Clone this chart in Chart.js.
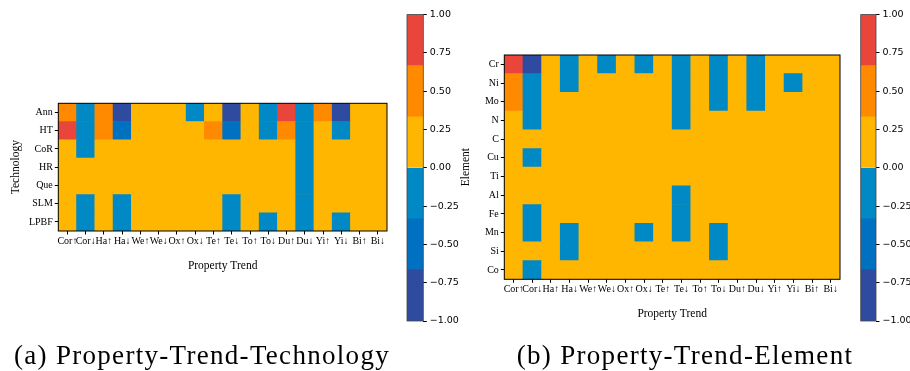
<!DOCTYPE html>
<html>
<head>
<meta charset="utf-8">
<script src="https://cdn.jsdelivr.net/npm/chart.js@4.4.0/dist/chart.umd.min.js"></script>
<style>
  body { margin: 0; background: #fff; }
  #wrap { position: relative; width: 910px; height: 371px; overflow: hidden; }
  #wrap canvas { position: absolute; left: 0; top: 0; }
  .cap { position: absolute; top: 340px; font-family: "Liberation Serif", serif; font-size: 27px;
         letter-spacing: 1.3px; color: #000; text-align: center; white-space: nowrap; }
</style>
</head>
<body>
<div id="wrap">
  <canvas id="techChart" width="910" height="371"></canvas>
  <canvas id="techBar" width="910" height="371"></canvas>
  <canvas id="elemChart" width="910" height="371"></canvas>
  <canvas id="elemBar" width="910" height="371"></canvas>
  <div class="cap" style="left:2px;width:400px;">(a) Property-Trend-Technology</div>
  <div class="cap" style="left:485px;width:400px;">(b) Property-Trend-Element</div>
</div>
<script>
// property trend columns (same for both panels)
const trends = ['Cor↑', 'Cor↓', 'Ha↑', 'Ha↓', 'We↑', 'We↓', 'Ox↑', 'Ox↓', 'Te↑',
  'Te↓', 'To↑', 'To↓', 'Du↑', 'Du↓', 'Yi↑', 'Yi↓', 'Bi↑', 'Bi↓'];

// (a) technology rows, top to bottom
const techNames = ['Ann', 'HT', 'CoR', 'HR', 'Que', 'SLM', 'LPBF'];
const ann  = [0.5, -0.2, 0.5, -1, 0, 0, 0, -0.2, 0, -1, 0, -0.2, 1, -0.2, 0.5, -1, 0, 0];
const ht   = [1, -0.2, 0.5, -0.5, 0, 0, 0, 0, 0.5, -0.5, 0, -0.2, 0.5, -0.2, 0, -0.2, 0, 0];
const cor  = [0, -0.2, 0, 0, 0, 0, 0, 0, 0, 0, 0, 0, 0, -0.2, 0, 0, 0, 0];
const hr   = [0, 0, 0, 0, 0, 0, 0, 0, 0, 0, 0, 0, 0, -0.2, 0, 0, 0, 0];
const que  = [0, 0, 0, 0, 0, 0, 0, 0, 0, 0, 0, 0, 0, -0.2, 0, 0, 0, 0];
const slm  = [0, -0.2, 0, -0.2, 0, 0, 0, 0, 0, -0.2, 0, 0, 0, -0.2, 0, 0, 0, 0];
const lpbf = [0, -0.2, 0, -0.2, 0, 0, 0, 0, 0, -0.2, 0, -0.2, 0, -0.2, 0, -0.2, 0, 0];

// (b) element rows, top to bottom
const elemNames = ['Cr', 'Ni', 'Mo', 'N', 'C', 'Cu', 'Ti', 'Al', 'Fe', 'Mn', 'Si', 'Co'];
const cr = [1, -1, 0, -0.2, 0, -0.2, 0, -0.2, 0, -0.2, 0, -0.2, 0, -0.2, 0, 0, 0, 0];
const ni = [0.5, -0.2, 0, -0.2, 0, 0, 0, 0, 0, -0.2, 0, -0.2, 0, -0.2, 0, -0.2, 0, 0];
const mo = [0.5, -0.2, 0, 0, 0, 0, 0, 0, 0, -0.2, 0, -0.2, 0, -0.2, 0, 0, 0, 0];
const nn = [0, -0.2, 0, 0, 0, 0, 0, 0, 0, -0.2, 0, 0, 0, 0, 0, 0, 0, 0];
const cc = [0, 0, 0, 0, 0, 0, 0, 0, 0, 0, 0, 0, 0, 0, 0, 0, 0, 0];
const cu = [0, -0.2, 0, 0, 0, 0, 0, 0, 0, 0, 0, 0, 0, 0, 0, 0, 0, 0];
const ti = [0, 0, 0, 0, 0, 0, 0, 0, 0, 0, 0, 0, 0, 0, 0, 0, 0, 0];
const al = [0, 0, 0, 0, 0, 0, 0, 0, 0, -0.2, 0, 0, 0, 0, 0, 0, 0, 0];
const fe = [0, -0.2, 0, 0, 0, 0, 0, 0, 0, -0.2, 0, 0, 0, 0, 0, 0, 0, 0];
const mn = [0, -0.2, 0, -0.2, 0, 0, 0, -0.2, 0, -0.2, 0, -0.2, 0, 0, 0, 0, 0, 0];
const si = [0, 0, 0, -0.2, 0, 0, 0, 0, 0, 0, 0, -0.2, 0, 0, 0, 0, 0, 0];
const co = [0, -0.2, 0, 0, 0, 0, 0, 0, 0, 0, 0, 0, 0, 0, 0, 0, 0, 0];

// colorbar bands, bottom to top
const bandEdges = [-1, -2 / 3, -1 / 3, 0, 1 / 3, 2 / 3, 1];
const bandColors = ['#2F4B9F', '#0070C0', '#0089C5', '#FFB600', '#FF8A00', '#E9453B'];
const barTicks = [-1, -0.75, -0.5, -0.25, 0, 0.25, 0.5, 0.75, 1];

const serif = 'Liberation Serif';

function colorFor(v) {
  for (let i = bandColors.length - 1; i >= 0; i--) {
    if (v >= bandEdges[i]) return bandColors[i];
  }
  return bandColors[0];
}

const framePlugin = {
  id: 'frame',
  beforeDatasetsDraw(chart, args, opts) {
    if (!opts.fill) return;
    const { ctx, chartArea: a } = chart;
    ctx.save();
    ctx.fillStyle = opts.fill;
    ctx.fillRect(a.left, a.top, a.right - a.left, a.bottom - a.top);
    ctx.restore();
  },
  afterDatasetsDraw(chart, args, opts) {
    const { ctx, chartArea: a } = chart;
    ctx.save();
    ctx.strokeStyle = opts.color || '#000';
    ctx.lineWidth = opts.width || 1;
    ctx.strokeRect(a.left, a.top, a.right - a.left, a.bottom - a.top);
    ctx.restore();
  }
};

function heatmap(id, rowNames, rows, yTitle, pad, yWidth, xHeight) {
  const n = rows.length;
  const datasets = rows.slice().reverse().map((vals, i) => ({
    label: rowNames[n - 1 - i],
    data: vals.map(() => 1),
    backgroundColor: vals.map(colorFor),
    borderWidth: 0,
    barPercentage: 1,
    categoryPercentage: 1,
  }));
  return new Chart(document.getElementById(id), {
    type: 'bar',
    data: { labels: trends, datasets: datasets },
    plugins: [framePlugin],
    options: {
      responsive: false,
      animation: false,
      layout: { padding: pad },
      plugins: {
        legend: { display: false },
        tooltip: { enabled: false },
        frame: { color: '#000', width: 1, fill: bandColors[3] },
      },
      scales: {
        x: {
          stacked: true,
          grid: { offset: false, drawOnChartArea: false, color: '#000', tickLength: 3.5 },
          border: { display: false },
          ticks: { color: '#000', font: { family: serif, size: 10 }, maxRotation: 0, autoSkip: false, padding: 1 },
          title: { display: true, text: 'Property Trend', color: '#000', font: { family: serif, size: 11.5 }, padding: 0 },
          afterFit: (s) => { s.height = xHeight; },
        },
        y: {
          type: 'linear',
          stacked: true,
          min: 0,
          max: n,
          afterBuildTicks: (s) => { s.ticks = rowNames.map((_, i) => ({ value: n - i - 0.5 })); },
          grid: { drawOnChartArea: false, color: '#000', tickLength: 3.5 },
          border: { display: false },
          ticks: {
            color: '#000', font: { family: serif, size: 10 }, autoSkip: false, padding: 2,
            callback: (v) => rowNames[n - 1 - Math.floor(v)],
          },
          title: { display: true, text: yTitle, color: '#000', font: { family: serif, size: 11.5 }, padding: 0 },
          afterFit: (s) => { s.width = yWidth; },
        },
      },
    },
  });
}

function colorbar(id, pad, yWidth) {
  const datasets = bandColors.map((c, i) => ({
    data: [[bandEdges[i], bandEdges[i + 1]]],
    backgroundColor: c,
    borderWidth: 0,
    grouped: false,
    barPercentage: 1,
    categoryPercentage: 1,
  }));
  return new Chart(document.getElementById(id), {
    type: 'bar',
    data: { labels: [''], datasets: datasets },
    plugins: [framePlugin],
    options: {
      responsive: false,
      animation: false,
      layout: { padding: pad },
      plugins: {
        legend: { display: false },
        tooltip: { enabled: false },
        frame: { color: '#444', width: 0.8 },
      },
      scales: {
        x: { display: false },
        y: {
          position: 'right',
          min: -1,
          max: 1,
          afterBuildTicks: (s) => { s.ticks = barTicks.map((v) => ({ value: v })); },
          grid: { drawOnChartArea: false, color: '#000', tickLength: 3.5 },
          border: { display: false },
          ticks: {
            color: '#000', font: { family: 'DejaVu Sans', size: 9.5 }, padding: 3,
            callback: (v) => (v < 0 ? '\u2212' : '') + Math.abs(v).toFixed(2),
          },
          afterFit: (s) => { s.width = yWidth; },
        },
      },
    },
  });
}

heatmap('techChart', techNames, [ann, ht, cor, hr, que, slm, lpbf], 'Technology',
  { left: 9, right: 523, top: 103.3, bottom: 98.4 }, 49.3, 41.6);
heatmap('elemChart', elemNames, [cr, ni, mo, nn, cc, cu, ti, al, fe, mn, si, co], 'Element',
  { left: 459, right: 70, top: 55, bottom: 50.4 }, 45.3, 41.3);
colorbar('techBar', { left: 407, right: 446.7, top: 14.6, bottom: 50 }, 40);
colorbar('elemBar', { left: 860.7, right: -6, top: 14.6, bottom: 50 }, 40);
</script>
</body>
</html>
